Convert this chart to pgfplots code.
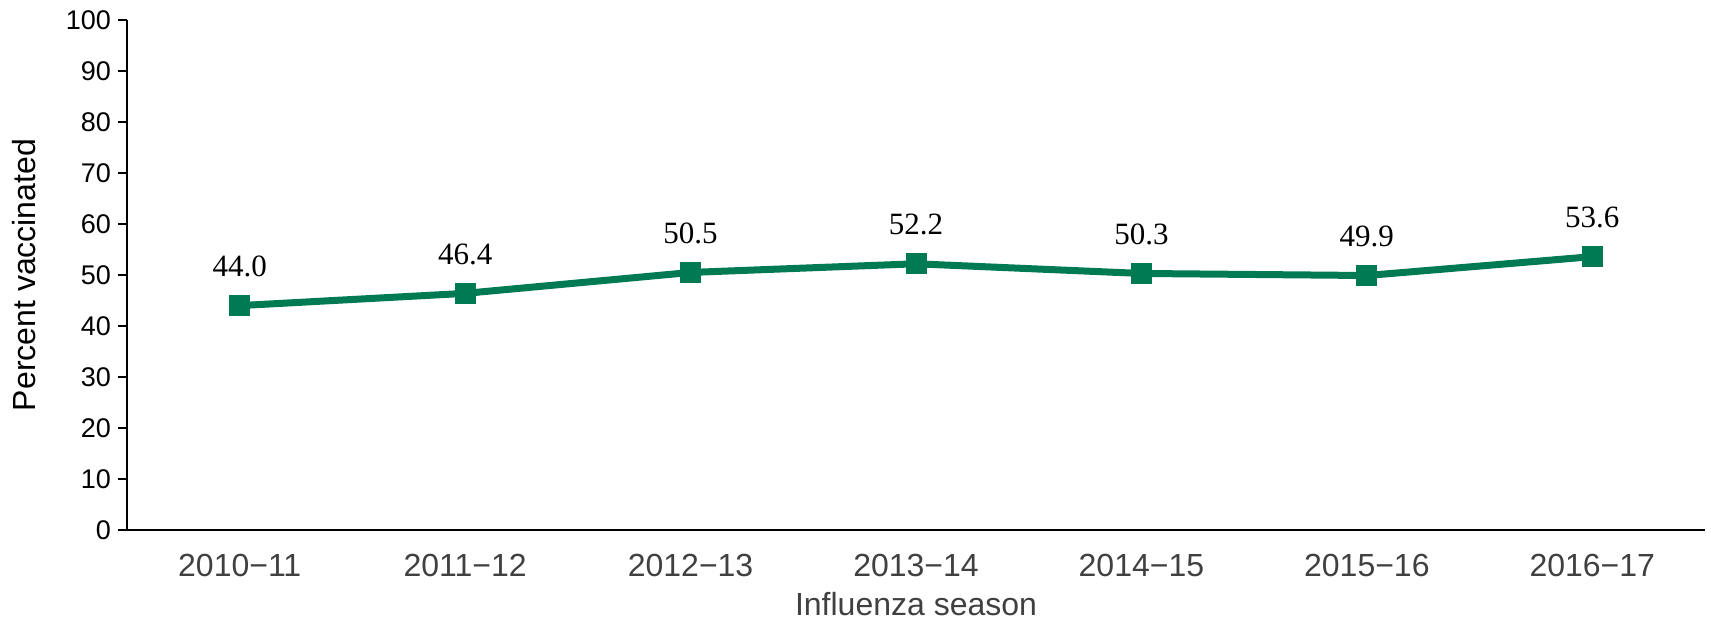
\documentclass[border=0pt]{standalone}
\usepackage{pgfplots}
\pgfplotsset{compat=1.18}
\usepackage{fontspec}
\setmainfont{Liberation Sans}
\newfontfamily\seriffont{Liberation Serif}
\definecolor{lgreen}{RGB}{0,122,83}
\definecolor{tgray}{RGB}{64,64,64}
\pgfplotstableread{
x y lab
0 44.0 44.0
1 46.4 46.4
2 50.5 50.5
3 52.2 52.2
4 50.3 50.3
5 49.9 49.9
6 53.6 53.6
}\datatab
\begin{document}
\begin{tikzpicture}
\begin{axis}[
  scale only axis,
  width=789pt, height=255pt,
  xmin=-0.5, xmax=6.5,
  ymin=0, ymax=100,
  ytick distance=10,
  xtick=data,
  xticklabels={2010−11,2011−12,2012−13,2013−14,2014−15,2015−16,2016−17},
  axis x line*=bottom,
  axis y line*=left,
  axis line style={line width=1pt, black, -},
  tick align=outside,
  major tick length=4.5pt,
  ytick style={line width=1pt, black},
  xtick style={draw=none},
  /pgf/number format/assume math mode=true,
  yticklabel style={font=\fontsize{13.5}{16}\selectfont, text=black},
  xticklabel style={font=\fontsize{16}{19}\selectfont, text=tgray, yshift=-4pt},
  xlabel={Influenza season},
  ylabel={Percent vaccinated},
  xlabel style={font=\fontsize{16}{19}\selectfont, text=tgray, at={(axis description cs:0.5,-0.1686)}, anchor=base},
  ylabel style={font=\fontsize{16}{19}\selectfont, text=black, at={(axis description cs:-0.0653,0.5)}, anchor=center},
  clip=false,
]
\addplot[color=lgreen, line width=3.5pt, mark=square*, mark size=5pt,
  mark options={solid, fill=lgreen, draw=lgreen, line width=0pt},
  nodes near coords, point meta=explicit symbolic,
  every node near coord/.append style={font=\seriffont\fontsize{15.5}{18}\selectfont, text=black, anchor=base, yshift=14.5pt, inner sep=0pt}]
  table[x=x, y=y, meta=lab]{\datatab};
\coordinate (ll) at (rel axis cs:0,0);
\coordinate (ur) at (rel axis cs:1,1);
\end{axis}
\pgfresetboundingbox
\path ([xshift=-63.5pt,yshift=-45.5pt]ll) rectangle ([xshift=3pt,yshift=10pt]ur);
\end{tikzpicture}
\end{document}
